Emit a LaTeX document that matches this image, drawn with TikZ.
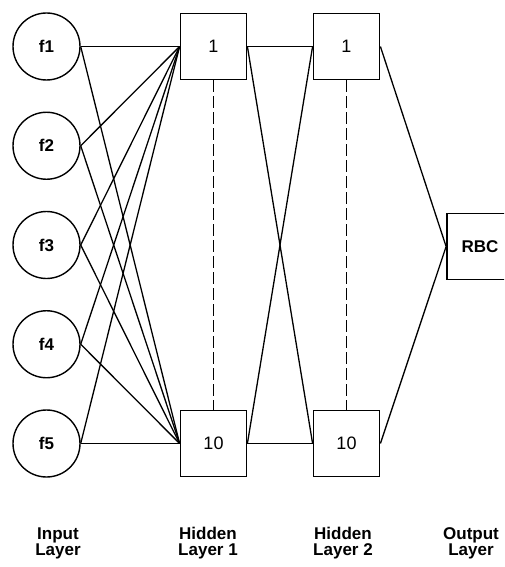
\documentclass[tikz,border=0pt]{standalone}
\usepackage{fontspec}
\setmainfont{Liberation Sans}
\begin{document}
\begin{tikzpicture}[x=1pt,y=-1pt,
  neuron/.style={draw,circle,line width=1.4pt,minimum size=67pt,inner sep=0pt,
                 font=\fontsize{17}{17}\selectfont\bfseries},
  unit/.style={draw,rectangle,line width=1.8pt,minimum size=66pt,inner sep=0pt,
               font=\fontsize{18}{18}\selectfont},
  outunit/.style={unit,font=\fontsize{17}{17}\selectfont\bfseries},
  link/.style={line width=1.3pt},
  skip/.style={line width=1.4pt,dash pattern=on 12pt off 4pt},
  layername/.style={align=center,anchor=base,
                    font=\fontsize{17}{16}\selectfont\bfseries}]
  \path[use as bounding box,clip] (0,0) rectangle (504,567);

  % input layer
  \foreach \i/\y in {1/46.5,2/145.75,3/245,4/344.25,5/443.5}
    \node[neuron] (f\i) at (46.5,\y) {f\i};

  % hidden layers
  \node[unit] (a1)  at (213.5,46.5)  {1};
  \node[unit] (a10) at (213.5,443.5) {10};
  \node[unit] (b1)  at (346.5,46.5)  {1};
  \node[unit] (b10) at (346.5,443.5) {10};

  % output layer
  \node[outunit] (out) at (480,246.5) {RBC};

  % connections
  \foreach \i in {1,...,5} {
    \draw[link] (f\i.east) -- (a1.west);
    \draw[link] (f\i.east) -- (a10.west);
  }
  \foreach \s in {a1,a10}
    \foreach \t in {b1,b10}
      \draw[link] (\s.east) -- (\t.west);
  \draw[link] (b1.east) -- (out.west);
  \draw[link] (b10.east) -- (out.west);

  % omitted units
  \draw[skip] (a1.south) -- (a10.north);
  \draw[skip] (b1.south) -- (b10.north);

  % layer captions (anchored on the baseline of the second line)
  \node[layername] (lin)  at (58,555)  {Input\\Layer};
  \node[layername] (lh1)  at (208,555) {Hidden\\Layer 1};
  \node[layername] (lh2)  at (343,555) {Hidden\\Layer 2};
  \node[layername] (lout) at (471,555) {Output\\Layer};
\end{tikzpicture}
\end{document}
